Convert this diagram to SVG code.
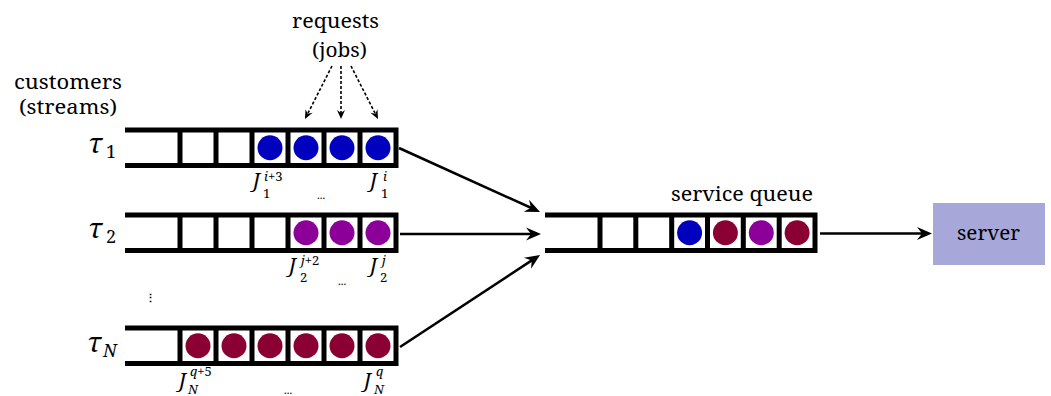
<svg xmlns="http://www.w3.org/2000/svg" width="1051" height="396" viewBox="0 0 1051 396">
<defs>
<style>
.bar{stroke:#000;stroke-width:5;fill:none;stroke-linecap:butt}
.blue{fill:#0000BF}
.purple{fill:#8C0099}
.maroon{fill:#8B0033}
.txt{font-family:Noto Serif, serif;font-size:20px;fill:#000}
.mi{font-family:Noto Serif, serif;font-style:italic;fill:#000}
.mr{font-style:normal}
.dots{font-family:Noto Serif, serif;font-weight:bold;font-size:9px;fill:#000;text-anchor:middle}
.conn{stroke:#000;stroke-width:2.6;fill:none}
.dash{stroke:#000;stroke-width:1.6;fill:none;stroke-dasharray:3 2}
</style>
<marker id="arr" markerUnits="userSpaceOnUse" viewBox="-16 -8 17 16" markerWidth="17" markerHeight="16" refX="-4" refY="0" orient="auto">
<path d="M0,0 L-15,-6.5 L-10,0 L-15,6.5 Z" fill="#000"/>
</marker>
<marker id="arrs" markerUnits="userSpaceOnUse" viewBox="-10 -5 11 10" markerWidth="11" markerHeight="10" refX="-2" refY="0" orient="auto">
<path d="M0,0 L-9,-4 L-6,0 L-9,4 Z" fill="#000"/>
</marker>
</defs>
<rect width="1051" height="396" fill="#fff"/>

<g id="queue1">
<path class="bar" d="M125,130 H398.5 M125,165.5 H398.5 M180,130 V165.5 M216,130 V165.5 M252,130 V165.5 M288,130 V165.5 M324,130 V165.5 M360,130 V165.5 M396,130 V165.5"/>
<circle class="blue" cx="270" cy="147.75" r="12.5"/>
<circle class="blue" cx="306" cy="147.75" r="12.5"/>
<circle class="blue" cx="342" cy="147.75" r="12.5"/>
<circle class="blue" cx="378" cy="147.75" r="12.5"/>
<text class="mi" x="88" y="153" font-size="28">τ</text><text class="mi" x="106" y="158" font-size="18"><tspan class="mr">1</tspan></text>
<text class="mi" x="253" y="187" font-size="20">J</text><text class="mi" x="264" y="181" font-size="13">i<tspan class="mr">+3</tspan></text><text class="mi" x="263" y="198" font-size="13"><tspan class="mr">1</tspan></text>
<text class="mi" x="370" y="187" font-size="20">J</text><text class="mi" x="383" y="181" font-size="13">i</text><text class="mi" x="381" y="198" font-size="13"><tspan class="mr">1</tspan></text>
<text class="dots" x="321" y="199">…</text>
</g>

<g id="queue2">
<path class="bar" d="M125,215 H398.5 M125,250.5 H398.5 M180,215 V250.5 M216,215 V250.5 M252,215 V250.5 M288,215 V250.5 M324,215 V250.5 M360,215 V250.5 M396,215 V250.5"/>
<circle class="purple" cx="306" cy="232.75" r="12.5"/>
<circle class="purple" cx="342" cy="232.75" r="12.5"/>
<circle class="purple" cx="378" cy="232.75" r="12.5"/>
<text class="mi" x="88" y="238" font-size="28">τ</text><text class="mi" x="106" y="243" font-size="18"><tspan class="mr">2</tspan></text>
<text class="mi" x="289" y="272" font-size="20">J</text><text class="mi" x="301" y="265" font-size="13">j<tspan class="mr">+2</tspan></text><text class="mi" x="300" y="282" font-size="13"><tspan class="mr">2</tspan></text>
<text class="mi" x="370" y="272" font-size="20">J</text><text class="mi" x="382" y="265" font-size="13">j</text><text class="mi" x="380" y="282" font-size="13"><tspan class="mr">2</tspan></text>
<text class="dots" x="342" y="285">…</text>
</g>

<text id="vdots" x="150" y="302" font-family="Noto Serif, serif" font-size="11" font-weight="bold" text-anchor="middle">⋮</text>

<g id="queueN">
<path class="bar" d="M125,328 H398.5 M125,363.5 H398.5 M180,328 V363.5 M216,328 V363.5 M252,328 V363.5 M288,328 V363.5 M324,328 V363.5 M360,328 V363.5 M396,328 V363.5"/>
<circle class="maroon" cx="198" cy="345.75" r="12.5"/>
<circle class="maroon" cx="234" cy="345.75" r="12.5"/>
<circle class="maroon" cx="270" cy="345.75" r="12.5"/>
<circle class="maroon" cx="306" cy="345.75" r="12.5"/>
<circle class="maroon" cx="342" cy="345.75" r="12.5"/>
<circle class="maroon" cx="378" cy="345.75" r="12.5"/>
<text class="mi" x="87" y="352" font-size="28">τ</text><text class="mi" x="103" y="357" font-size="18">N</text>
<text class="mi" x="179" y="387" font-size="20">J</text><text class="mi" x="190" y="376" font-size="13">q<tspan class="mr">+5</tspan></text><text class="mi" x="188" y="394" font-size="13">N</text>
<text class="mi" x="364" y="387" font-size="20">J</text><text class="mi" x="376" y="376" font-size="13">q</text><text class="mi" x="374" y="394" font-size="13">N</text>
<text class="dots" x="288" y="394">…</text>
</g>

<g id="serviceQueue">
<path class="bar" d="M545,215 H817.5 M545,250.5 H817.5 M600,215 V250.5 M635.8,215 V250.5 M671.7,215 V250.5 M707.5,215 V250.5 M743.3,215 V250.5 M779.2,215 V250.5 M815,215 V250.5"/>
<circle class="blue" cx="689.6" cy="232.75" r="12.5"/>
<circle class="maroon" cx="725.4" cy="232.75" r="12.5"/>
<circle class="purple" cx="761.3" cy="232.75" r="12.5"/>
<circle class="maroon" cx="797.1" cy="232.75" r="12.5"/>
<text class="txt" x="671" y="201" textLength="142" lengthAdjust="spacingAndGlyphs">service queue</text>
</g>

<g id="server">
<rect x="933" y="203" width="112" height="62" fill="#A7A7D9"/>
<text class="txt" x="957" y="240" textLength="63" lengthAdjust="spacingAndGlyphs">server</text>
</g>

<g id="labels">
<text class="txt" x="292" y="28" textLength="87" lengthAdjust="spacingAndGlyphs">requests</text>
<text class="txt" x="312" y="57" textLength="55" lengthAdjust="spacingAndGlyphs">(jobs)</text>
<text class="txt" x="14" y="89" font-size="18" textLength="108" lengthAdjust="spacingAndGlyphs">customers</text>
<text class="txt" x="19" y="114" font-size="18" textLength="98" lengthAdjust="spacingAndGlyphs">(streams)</text>
</g>

<g id="connectors">
<line class="conn" x1="399" y1="148" x2="536.4" y2="210.3" marker-end="url(#arr)"/>
<line class="conn" x1="400" y1="234" x2="537" y2="234" marker-end="url(#arr)"/>
<line class="conn" x1="400" y1="347" x2="536.7" y2="257.2" marker-end="url(#arr)"/>
<line class="conn" x1="820" y1="233.5" x2="928" y2="233.5" marker-end="url(#arr)"/>
<line class="dash" x1="332" y1="66" x2="305.9" y2="117.2" marker-end="url(#arrs)"/>
<line class="dash" x1="341" y1="66" x2="341" y2="117" marker-end="url(#arrs)"/>
<line class="dash" x1="351" y1="66" x2="377.1" y2="117.2" marker-end="url(#arrs)"/>
</g>
</svg>
